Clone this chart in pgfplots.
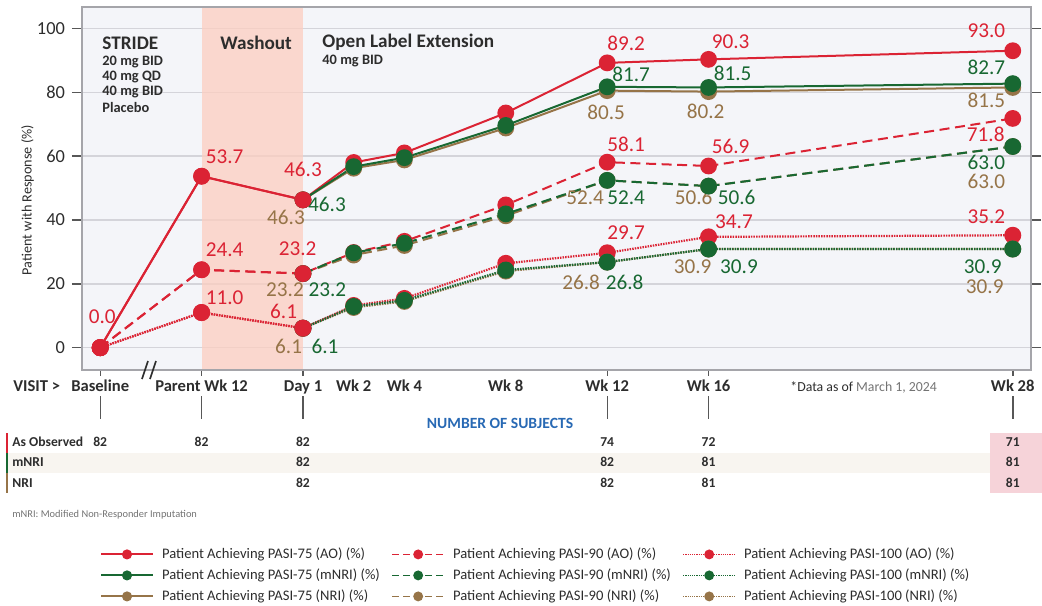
\documentclass[border=0pt]{standalone}
\usepackage{fontspec}
\setmainfont{Carlito}
\usepackage{pgfplots}
\pgfplotsset{compat=1.18}

\definecolor{cred}{RGB}{219,35,52}
\definecolor{cgreen}{RGB}{24,104,50}
\definecolor{cbrown}{RGB}{150,116,72}
\definecolor{bgcol}{RGB}{244,245,249}
\definecolor{gridcol}{RGB}{212,212,218}
\definecolor{axcol}{RGB}{165,165,170}
\definecolor{band}{RGB}{253,206,192}
\definecolor{txt}{RGB}{45,45,45}
\definecolor{cblue}{RGB}{40,105,180}
\definecolor{rowcol}{RGB}{248,245,240}
\definecolor{pinkcol}{RGB}{246,211,217}
\definecolor{grytxt}{RGB}{115,115,115}

% data label: colour, x, y, xshift, yshift (pt)
\newcommand\lbl[5]{\node[font=\fontsize{10.6}{12}\selectfont, text=#1, inner sep=0pt,
  xshift=#4pt, yshift=#5pt] at (axis cs:#2,#3) {#3};}
% subject count: x, row shift (pt), value
\newcommand\cnt[3]{\node[font=\fontsize{6.8}{8}\selectfont\bfseries, text=txt, inner sep=0pt,
  yshift=#2pt] at (axis cs:#1,-7) {#3};}

\pgfplotsset{
  pAO/.style={color=cred, mark=*, mark size=3.7pt, mark options={solid, fill=cred}},
  pmN/.style={color=cgreen, mark=*, mark size=3.7pt, mark options={solid, fill=cgreen}},
  pNR/.style={color=cbrown, mark=*, mark size=3.7pt, mark options={solid, fill=cbrown}},
  l75/.style={line width=1pt},
  l90/.style={line width=1pt, dash pattern=on 5pt off 2.8pt},
  l100/.style={line width=1.1pt, dash pattern=on 0.75pt off 0.55pt},
}

\begin{document}
\begin{tikzpicture}

% table backgrounds (image pixel coordinates)
\begin{scope}[x=0.5pt,y=-0.5pt,shift={(-41pt,185pt)}]
  \fill[rowcol] (8,453) rectangle (1042,473);
  \fill[pinkcol] (990,433) rectangle (1042,493);
  \fill[cred] (6,433) rectangle (8.5,453);
  \fill[cgreen] (6,453) rectangle (8.5,473);
  \fill[cbrown] (6,473) rectangle (8.5,493);
\end{scope}

\begin{axis}[
  name=ax, at={(0,0)}, anchor=south west,
  width=474.5pt, height=181.5pt, scale only axis,
  xmin=-8.718, xmax=28.72, ymin=-7, ymax=106.7,
  axis background/.style={fill=bgcol},
  axis line style={draw=axcol, line width=1pt},
  ymajorgrids, grid style={draw=gridcol, line width=0.7pt},
  ytick={0,20,40,60,80,100},
  xtick={-8,-4,0,2,4,8,12,16,28},
  xticklabels={Baseline,Parent Wk 12,Day 1,Wk 2,Wk 4,Wk 8,Wk 12,Wk 16,Wk 28},
  xtick style={draw=none},
  ytick style={draw=txt!80, line width=0.7pt},
  tick align=outside, major tick length=5pt,
  xticklabel style={font=\fontsize{8.3}{9}\selectfont\bfseries, text=txt, anchor=base, yshift=-5.5pt},
  yticklabel style={font=\fontsize{9.2}{10}\selectfont, text=txt},
  /pgf/number format/assume math mode=true,
  ylabel={Patient with Response (\%)},
  ylabel style={font=\fontsize{7.1}{8}\selectfont, text=txt, at={(axis description cs:-0.0574,0.468)}, anchor=center},
  clip=false,
  legend columns=3,
  legend cell align=left,
  legend image code/.code={\draw[mark repeat=2,mark phase=2,#1] plot coordinates {(0pt,0pt) (13pt,0pt) (26pt,0pt)};},
  legend style={at={(axis description cs:0.019,-0.481)}, anchor=north west, draw=none, fill=none,
    inner sep=0pt, outer sep=0pt, font=\fontsize{7.3}{8.6}\selectfont, row sep=0.7pt,
    nodes={inner sep=1.5pt, text height=5.2pt, text depth=1.6pt, text=txt},
    /tikz/every odd column/.append style={column sep=2.5pt},
    /tikz/every even column/.append style={column sep=4.2pt}},
]

% washout period
\addplot[draw=none, fill=band, fill opacity=0.75, forget plot]
  coordinates {(-4,-6.7) (-4,106.4) (0,106.4) (0,-6.7)} -- cycle;

% PASI-100
\addplot[pAO, l100, forget plot] coordinates {(-8,0) (-4,11.0) (0,6.1) (2,13.2) (4,15.4) (8,26.4) (12,29.7) (16,34.7) (28,35.2)};
\addplot[pNR, l100, forget plot] coordinates {(0,6.1) (2,12.6) (4,14.5) (8,24.0) (12,26.8) (16,30.9) (28,30.9)};
\addplot[pmN, l100, forget plot] coordinates {(0,6.1) (2,12.9) (4,14.8) (8,24.3) (12,26.8) (16,30.9) (28,30.9)};
% PASI-90
\addplot[pAO, l90, forget plot] coordinates {(-8,0) (-4,24.4) (0,23.2) (2,29.8) (4,33.3) (8,44.7) (12,58.1) (16,56.9) (28,71.8)};
\addplot[pNR, l90, forget plot] coordinates {(0,23.2) (2,29.0) (4,32.0) (8,41.3) (12,52.4) (16,50.6) (28,63.0)};
\addplot[pmN, l90, forget plot] coordinates {(0,23.2) (2,29.7) (4,32.7) (8,41.9) (12,52.4) (16,50.6) (28,63.0)};
% PASI-75
\addplot[pAO, l75, forget plot] coordinates {(-8,0) (-4,53.7) (0,46.3) (2,58.0) (4,61.0) (8,73.5) (12,89.2) (16,90.3) (28,93.0)};
\addplot[pNR, l75, forget plot] coordinates {(0,46.3) (2,56.2) (4,58.8) (8,68.8) (12,80.5) (16,80.2) (28,81.5)};
\addplot[pmN, l75, forget plot] coordinates {(0,46.3) (2,56.7) (4,59.5) (8,69.6) (12,81.7) (16,81.5) (28,82.7)};
% parent-study segment of the AO series on top
\addplot[pAO, l100, forget plot] coordinates {(-8,0) (-4,11.0) (0,6.1)};
\addplot[pAO, l90, forget plot] coordinates {(-8,0) (-4,24.4) (0,23.2)};
\addplot[pAO, l75, forget plot] coordinates {(-8,0) (-4,53.7) (0,46.3)};

% legend
\addlegendimage{cred, line width=1pt, mark=*, mark size=2pt, mark options={solid}}
\addlegendentry{Patient Achieving PASI-75 (AO) (\%)}
\addlegendimage{cred, line width=0.9pt, dash pattern=on 3.5pt off 2pt, mark=*, mark size=2pt, mark options={solid}}
\addlegendentry{Patient Achieving PASI-90 (AO) (\%)}
\addlegendimage{cred, line width=0.9pt, dash pattern=on 0.6pt off 0.5pt, mark=*, mark size=2pt, mark options={solid}}
\addlegendentry{Patient Achieving PASI-100 (AO) (\%)}
\addlegendimage{cgreen, line width=1pt, mark=*, mark size=2pt, mark options={solid}}
\addlegendentry{Patient Achieving PASI-75 (mNRI) (\%)}
\addlegendimage{cgreen, line width=0.9pt, dash pattern=on 3.5pt off 2pt, mark=*, mark size=2pt, mark options={solid}}
\addlegendentry{Patient Achieving PASI-90 (mNRI) (\%)}
\addlegendimage{cgreen, line width=0.9pt, dash pattern=on 0.6pt off 0.5pt, mark=*, mark size=2pt, mark options={solid}}
\addlegendentry{Patient Achieving PASI-100 (mNRI) (\%)}
\addlegendimage{cbrown, line width=1pt, mark=*, mark size=2pt, mark options={solid}}
\addlegendentry{Patient Achieving PASI-75 (NRI) (\%)}
\addlegendimage{cbrown, line width=0.9pt, dash pattern=on 3.5pt off 2pt, mark=*, mark size=2pt, mark options={solid}}
\addlegendentry{Patient Achieving PASI-90 (NRI) (\%)}
\addlegendimage{cbrown, line width=0.9pt, dash pattern=on 0.6pt off 0.5pt, mark=*, mark size=2pt, mark options={solid}}
\addlegendentry{Patient Achieving PASI-100 (NRI) (\%)}

% data labels
\lbl{cred}{-8}{0.0}{1}{15.3}
\lbl{cred}{-4}{53.7}{11.5}{9.7}
\lbl{cred}{0}{46.3}{0}{15}
\lbl{cgreen}{0}{46.3}{12}{-2.5}
\lbl{cbrown}{0}{46.3}{-8.5}{-9}
\lbl{cred}{-4}{24.4}{11.5}{10}
\lbl{cred}{0}{23.2}{-2.7}{12.3}
\lbl{cbrown}{0}{23.2}{-9}{-8.2}
\lbl{cgreen}{0}{23.2}{12.2}{-8.2}
\lbl{cred}{-4}{11.0}{11.5}{7.3}
\lbl{cred}{0}{6.1}{-9.7}{8.5}
\lbl{cbrown}{0}{6.1}{-7.2}{-8.9}
\lbl{cgreen}{0}{6.1}{11}{-8.9}
\lbl{cred}{12}{89.2}{9.5}{10}
\lbl{cgreen}{12}{81.7}{12}{6}
\lbl{cbrown}{12}{80.5}{-0.5}{-11}
\lbl{cred}{16}{90.3}{11}{8.8}
\lbl{cgreen}{16}{81.5}{12}{7.3}
\lbl{cbrown}{16}{80.2}{-1.5}{-10}
\lbl{cred}{28}{93.0}{-13.2}{10}
\lbl{cgreen}{28}{82.7}{-13.2}{8}
\lbl{cbrown}{28}{81.5}{-13.2}{-6.2}
\lbl{cred}{28}{71.8}{-13.5}{-8.2}
\lbl{cgreen}{28}{63.0}{-13.2}{-8.2}
\lbl{cbrown}{28}{63.0}{-13.2}{-17.7}
\lbl{cred}{12}{58.1}{9.5}{8.7}
\lbl{cgreen}{12}{52.4}{9.5}{-8.7}
\lbl{cbrown}{12}{52.4}{-11}{-8.7}
\lbl{cred}{16}{56.9}{11}{9.6}
\lbl{cbrown}{16}{50.6}{-7.5}{-5.8}
\lbl{cgreen}{16}{50.6}{14}{-5.8}
\lbl{cred}{12}{29.7}{9.5}{10}
\lbl{cbrown}{12}{26.8}{-13}{-9.9}
\lbl{cgreen}{12}{26.8}{8.7}{-9.9}
\lbl{cred}{16}{34.7}{12.7}{7.5}
\lbl{cbrown}{16}{30.9}{-8}{-9}
\lbl{cgreen}{16}{30.9}{15.2}{-9}
\lbl{cred}{28}{35.2}{-13.2}{9.2}
\lbl{cgreen}{28}{30.9}{-15}{-9}
\lbl{cbrown}{28}{30.9}{-14}{-19}

% number of subjects
\cnt{-8}{-36}{82} \cnt{-4}{-36}{82} \cnt{0}{-36}{82} \cnt{12}{-36}{74} \cnt{16}{-36}{72} \cnt{28}{-36}{71}
\cnt{0}{-46}{82} \cnt{12}{-46}{82} \cnt{16}{-46}{81} \cnt{28}{-46}{81}
\cnt{0}{-56.5}{82} \cnt{12}{-56.5}{82} \cnt{16}{-56.5}{81} \cnt{28}{-56.5}{81}
\end{axis}

% texts and rules in image pixel coordinates
\begin{scope}[x=0.5pt,y=-0.5pt,shift={(-41pt,185pt)}, every node/.style={text=txt, inner sep=0pt}]
  \foreach \vx in {100.2,201.6,303,607.2,708.6,1012.8} {
    \draw[txt!80, line width=0.7pt] (\vx,370.5) -- (\vx,375.5);
    \draw[txt!80, line width=0.7pt] (\vx,396) -- (\vx,419);
  }
  \node[anchor=west, font=\fontsize{9.6}{11}\selectfont\bfseries] at (102,43) {STRIDE};
  \node[anchor=west, font=\fontsize{7.2}{8}\selectfont\bfseries] at (102,62) {20 mg BID};
  \node[anchor=west, font=\fontsize{7.2}{8}\selectfont\bfseries] at (102,77) {40 mg QD};
  \node[anchor=west, font=\fontsize{7.2}{8}\selectfont\bfseries] at (102,92) {40 mg BID};
  \node[anchor=west, font=\fontsize{7.2}{8}\selectfont\bfseries] at (102,108) {Placebo};
  \node[anchor=west, font=\fontsize{9.6}{11}\selectfont\bfseries] at (220,43) {Washout};
  \node[anchor=west, font=\fontsize{9.6}{11}\selectfont\bfseries] at (322,42) {Open Label Extension};
  \node[anchor=west, font=\fontsize{7.2}{8}\selectfont\bfseries] at (322,61) {40 mg BID};
  \node[anchor=base west, font=\fontsize{8.3}{9}\selectfont\bfseries] at (13,391) {VISIT >};
  \node[anchor=base west, font=\fontsize{6.9}{8}\selectfont] at (790,391) {*Data as of \textcolor{grytxt}{March 1, 2024}};
  \node[font=\fontsize{7.8}{9}\selectfont\bfseries, text=cblue] at (500,423) {NUMBER OF SUBJECTS};
  \node[anchor=west, font=\fontsize{6.8}{8}\selectfont\bfseries] at (12,442) {As Observed};
  \node[anchor=west, font=\fontsize{6.8}{8}\selectfont\bfseries] at (12,462) {mNRI};
  \node[anchor=west, font=\fontsize{6.8}{8}\selectfont\bfseries] at (12,483) {NRI};
  \node[anchor=west, font=\fontsize{5.2}{6}\selectfont, text=grytxt] at (12,515) {mNRI: Modified Non-Responder Imputation};
  \draw[txt, line width=0.8pt] (142,379) -- (148,361);
  \draw[txt, line width=0.8pt] (150,379) -- (156,361);
\end{scope}

\pgfresetboundingbox
\path[use as bounding box] (-41pt,-117.5pt) rectangle (480pt,185pt);
\end{tikzpicture}
\end{document}
